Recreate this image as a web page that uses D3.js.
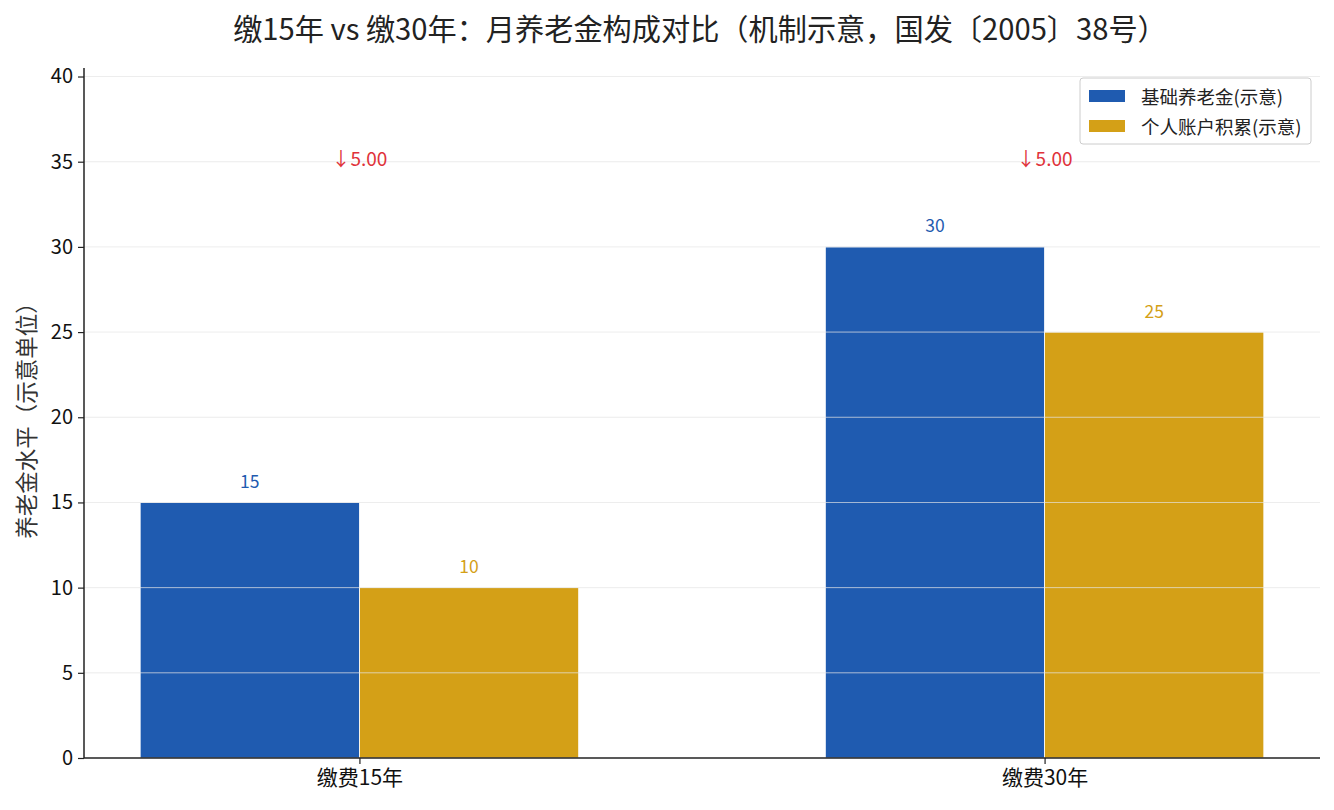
<!DOCTYPE html>
<html><head><meta charset="utf-8">
<script src="https://cdn.jsdelivr.net/npm/d3@7/dist/d3.min.js"></script>
<style>body{margin:0;background:#fff;} text{font-family:"Noto Sans CJK SC","Noto Sans",sans-serif;}</style>
</head><body><svg id="c" width="1334" height="810"></svg>
<script>
const categories = ["缴费15年", "缴费30年"];
const seriesNames = ["基础养老金(示意)", "个人账户积累(示意)"];
const basicPension = [15, 30];
const personalAccount = [10, 25];
const diffLabels = ["↓5.00", "↓5.00"];
const yTicks = [0, 5, 10, 15, 20, 25, 30, 35, 40];
const title = "缴15年 vs 缴30年：月养老金构成对比（机制示意，国发〔2005〕38号）";
const yLabel = "养老金水平（示意单位）";
const colors = ["#1f5bb0", "#d4a017"];

const svg = d3.select("#c");
const L = 84, R = 1320, T = 68, B = 758;
const barW = 0.32;
const x = d3.scaleLinear().domain([-0.402, 1.402]).range([L, R]);
const y = d3.scaleLinear().domain([0, 40.5]).range([B, T]);
const series = [basicPension, personalAccount];

// bars
series.forEach((vals, s) => {
  svg.append("g").selectAll("rect").data(vals).join("rect")
    .attr("x", (d, i) => x(i + (s === 0 ? -barW : 0)))
    .attr("width", x(barW) - x(0))
    .attr("y", d => y(d))
    .attr("height", d => y(0) - y(d))
    .attr("fill", colors[s])
    .attr("stroke", "#fff").attr("stroke-width", 0.8);
});

// grid on top
svg.append("g").selectAll("line").data(yTicks.filter(t => t > 0)).join("line")
  .attr("x1", L).attr("x2", R).attr("y1", d => y(d)).attr("y2", d => y(d))
  .attr("stroke", "#e6e6e6").attr("stroke-width", 0.8).attr("opacity", 0.9);

// value labels
series.forEach((vals, s) => {
  svg.append("g").selectAll("text").data(vals).join("text")
    .attr("x", (d, i) => x(i + (s === 0 ? -barW / 2 : barW / 2)))
    .attr("y", d => y(d) - 22)
    .attr("text-anchor", "middle").attr("dominant-baseline", "central")
    .attr("font-size", 17.5).attr("fill", colors[s])
    .text(d => d);
});

// diff annotations
svg.append("g").selectAll("text").data(diffLabels).join("text")
  .attr("x", (d, i) => x(i))
  .attr("y", y(35) - 4)
  .attr("text-anchor", "middle").attr("dominant-baseline", "central")
  .attr("font-size", 19).attr("fill", "#e0323a")
  .text(d => d);

// axes
const yAxis = d3.axisLeft(y).tickValues(yTicks).tickSize(6).tickPadding(5);
const gy = svg.append("g").attr("transform", `translate(${L},0)`).call(yAxis);
gy.selectAll("text").attr("font-size", 20).attr("fill", "#111");
gy.select(".domain").attr("stroke", "#222").attr("stroke-width", 1.5).attr("d", `M-0,${B}V${T}`);
gy.selectAll(".tick line").attr("stroke", "#222").attr("stroke-width", 1.2);

const xAxis = d3.axisBottom(x).tickValues([0, 1]).tickFormat(i => categories[i]).tickSize(6).tickPadding(6);
const gx = svg.append("g").attr("transform", `translate(0,${B})`).call(xAxis);
gx.selectAll("text").attr("font-size", 21).attr("fill", "#111");
gx.select(".domain").attr("stroke", "#222").attr("stroke-width", 1.5).attr("d", `M${L},0H${R}`);
gx.selectAll(".tick line").attr("stroke", "#222").attr("stroke-width", 1.2);

// y label
svg.append("text").attr("transform", `translate(25,${(T + B) / 2 + 2}) rotate(-90)`)
  .attr("text-anchor", "middle").attr("dominant-baseline", "central")
  .attr("font-size", 22.5).attr("fill", "#333").text(yLabel);

// title
svg.append("text").attr("x", (L + R) / 2 - 2).attr("y", 27)
  .attr("text-anchor", "middle").attr("dominant-baseline", "central")
  .attr("font-size", 29.2).attr("fill", "#222").text(title);

// legend
const lg = svg.append("g").attr("transform", "translate(1080,78)");
lg.append("rect").attr("width", 231).attr("height", 66).attr("rx", 3)
  .attr("fill", "#fff").attr("stroke", "#ccc").attr("stroke-width", 1);
seriesNames.forEach((n, i) => {
  lg.append("rect").attr("x", 9).attr("y", 12 + i * 30).attr("width", 36).attr("height", 12).attr("fill", colors[i]);
  lg.append("text").attr("x", 61).attr("y", 18 + i * 30).attr("dominant-baseline", "central")
    .attr("font-size", 18.5).attr("fill", "#222").text(n);
});
</script></body></html>
